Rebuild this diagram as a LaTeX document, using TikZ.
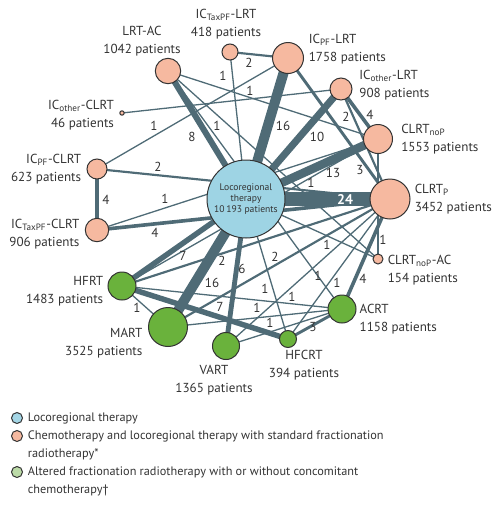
\documentclass[tikz,border=0pt]{standalone}
\usepackage{fontspec}
\setmainfont{PT Sans}
\usetikzlibrary{positioning, backgrounds}
\definecolor{lrtblue}{HTML}{9ED4E4}
\definecolor{chpeach}{HTML}{F6B9A0}
\definecolor{afgreen}{HTML}{6AB23C}
\definecolor{lnkgrey}{HTML}{4F6B76}
\definecolor{legblue}{HTML}{A4D6E6}
\definecolor{leggreen}{HTML}{BCDBA8}
\definecolor{inkgrey}{HTML}{333333}

\begin{document}
\begin{tikzpicture}[x=0.75pt, y=-0.75pt]
 \tikzset{arm/.style={circle, draw=inkgrey, line width=0.75pt, inner sep=0pt, minimum size={#1*1.5pt}}}
 \tikzset{tr/.style={draw=lnkgrey, line width={0.975pt*pow(#1,0.737)}}}
 \tikzset{lbl/.style={font=\fontsize{9.8}{13.5}\selectfont, text=inkgrey, inner sep=0pt}}
 \tikzset{lgd/.style={font=\fontsize{9.2}{13.5}\selectfont, text=inkgrey, inner sep=0pt}}
 \tikzset{num/.style={font=\fontsize{9.8}{12}\selectfont, text=inkgrey, inner sep=0pt}}
 \useasboundingbox (0,0) rectangle (494,508);

 % treatments
 \node[arm=39, fill=lrtblue, text=inkgrey, align=center,
    font=\fontsize{7.2}{8.3}\selectfont] (lrt) at (246,199) {Locoregional\\therapy\\10\,193 patients};
 \node[arm=12.7, fill=chpeach] (lrtac) at (168,71) {};
 \node[arm=8, fill=chpeach] (ictlrt) at (230,52) {};
 \node[arm=15.5, fill=chpeach] (icplrt) at (288,58) {};
 \node[arm=11, fill=chpeach] (icolrt) at (341,89) {};
 \node[arm=14.5, fill=chpeach] (clrtn) at (378,139) {};
 \node[arm=20, fill=chpeach] (clrtp) at (390,199) {};
 \node[arm=5, fill=chpeach] (clrtnac) at (378,259) {};
 \node[arm=14, fill=afgreen] (acrt) at (342,309) {};
 \node[arm=8.5, fill=afgreen] (hfcrt) at (288,339) {};
 \node[arm=13.5, fill=afgreen] (vart) at (226,346) {};
 \node[arm=19.5, fill=afgreen] (mart) at (168,327) {};
 \node[arm=14, fill=afgreen] (hfrt) at (122,286) {};
 \node[arm=11.7, fill=chpeach] (ictclrt) at (97,230) {};
 \node[arm=10, fill=chpeach] (icpclrt) at (97,169) {};
 \node[arm=2.2, fill=chpeach] (icoclrt) at (122,113) {};

 \node[lbl, align=center, above=1pt of lrtac, xshift=-19.5pt] (lrtac-t) {LRT-AC\\1042 patients};
 \node[lbl, align=center, above=3pt of ictlrt, xshift=-3pt] (ictlrt-t) {IC\textsubscript{TaxPF}-LRT\\418 patients};
 \node[lbl, align=left, right=3.4pt of icplrt, yshift=6.4pt] (icplrt-t) {IC\textsubscript{PF}-LRT\\1758 patients};
 \node[lbl, align=left, right=5pt of icolrt, yshift=2.6pt] (icolrt-t) {IC\textsubscript{other}-LRT\\908 patients};
 \node[lbl, align=left, right=6pt of clrtn] (clrtn-t) {CLRT\textsubscript{noP}\\1553 patients};
 \node[lbl, align=left, right=3pt of clrtp] (clrtp-t) {CLRT\textsubscript{P}\\3452 patients};
 \node[lbl, align=left, right=3pt of clrtnac, yshift=-8.2pt] (clrtnac-t) {CLRT\textsubscript{noP}-AC\\154 patients};
 \node[lbl, align=left, right=2.2pt of acrt, yshift=-7.9pt] (acrt-t) {ACRT\\1158 patients};
 \node[lbl, align=center, below=1.5pt of hfcrt, xshift=12pt] (hfcrt-t) {HFCRT\\394 patients};
 \node[lbl, align=center, below=3.6pt of vart, xshift=-9pt] (vart-t) {VART\\1365 patients};
 \node[lbl, align=right, left=4pt of mart, yshift=-12.4pt] (mart-t) {MART\\3525 patients};
 \node[lbl, align=right, left=3pt of hfrt, yshift=-4pt] (hfrt-t) {HFRT\\1483 patients};
 \node[lbl, align=right, left=3.8pt of ictclrt, yshift=-3pt] (ictclrt-t) {IC\textsubscript{TaxPF}-CLRT\\906 patients};
 \node[lbl, align=right, left=3.8pt of icpclrt] (icpclrt-t) {IC\textsubscript{PF}-CLRT\\623 patients};
 \node[lbl, align=right, left=3.8pt of icoclrt, yshift=-1.9pt] (icoclrt-t) {IC\textsubscript{other}-CLRT\\46 patients};

 % comparisons, width by number of trials
 \begin{scope}[on background layer]
 \draw[tr=1] (lrt.center) -- (ictlrt.center) node[num] (n1) at (223,76) {1};
 \draw[tr=1] (lrtac.center) -- (clrtn.center);
 \draw[tr=1] (icoclrt.center) -- (icolrt.center) node[num] (n3) at (250,91) {1};
 \draw[tr=1] (lrtac.center) -- (clrtnac.center) node[num] (n4) at (217,126) {1};
 \draw[tr=1] (lrtac.center) -- (acrt.center) node[num] (n5) at (318,276) {1};
 \draw[tr=1] (icpclrt.center) -- (icplrt.center) node[num] (n6) at (154,126) {1};
 \draw[tr=1] (ictclrt.center) -- (clrtn.center) node[num] (n7) at (165,199) {1};
 \draw[tr=1] (hfrt.center) -- (clrtn.center) node[num] (n8) at (311,183) {1};
 \draw[tr=1] (clrtn.center) -- (clrtnac.center) node[num] (n9) at (383,240) {1};
 \draw[tr=1] (lrt.center) -- (clrtnac.center) node[num] (n10) at (327,245) {1};
 \draw[tr=1] (lrt.center) -- (hfcrt.center) node[num] (n11) at (265,289) {1};
 \draw[tr=1] (hfrt.center) -- (mart.center) node[num] (n12) at (137,308) {1};
 \draw[tr=1] (hfrt.center) -- (acrt.center);
 \draw[tr=1] (mart.center) -- (acrt.center) node[num] (n14) at (257,308) {1};
 \draw[tr=1] (vart.center) -- (acrt.center) node[num] (n15) at (270,323) {1};
 \draw[tr=1] (vart.center) -- (clrtp.center) node[num] (n16) at (292,297) {1};
 \draw[tr=1] (hfcrt.center) -- (clrtp.center) node[num] (n17) at (337,283) {1};
 \draw[tr=2] (ictlrt.center) -- (icplrt.center) node[num] (n18) at (249,63) {2};
 \draw[tr=2] (icolrt.center) -- (clrtp.center) node[num] (n19) at (346,117) {2};
 \draw[tr=2] (icpclrt.center) -- (clrtp.center) node[num] (n20) at (158,167) {2};
 \draw[tr=2] (hfrt.center) -- (clrtp.center) node[num] (n21) at (222,261) {2};
 \draw[tr=2] (mart.center) -- (clrtp.center) node[num] (n22) at (275,257) {2};
 \draw[tr=3] (icplrt.center) -- (clrtp.center) node[num] (n23) at (360,170) {3};
 \draw[tr=3] (hfcrt.center) -- (acrt.center) node[num] (n24) at (313,327) {3};
 \draw[tr=4] (icolrt.center) -- (clrtn.center) node[num] (n25) at (370,115) {4};
 \draw[tr=4] (icpclrt.center) -- (ictclrt.center) node[num] (n26) at (106,200) {4};
 \draw[tr=4] (ictclrt.center) -- (clrtp.center) node[num] (n27) at (155,233) {4};
 \draw[tr=4] (acrt.center) -- (clrtp.center) node[num] (n28) at (363,279) {4};
 \draw[tr=6] (lrt.center) -- (vart.center) node[num] (n29) at (242,269) {6};
 \draw[tr=7] (lrt.center) -- (hfrt.center) node[num] (n30) at (183,256) {7};
 \draw[tr=7] (hfrt.center) -- (hfcrt.center) node[num] (n31) at (220,307) {7};
 \draw[tr=8] (lrt.center) -- (lrtac.center) node[num] (n32) at (192,137) {8};
 \draw[tr=10] (lrt.center) -- (icolrt.center) node[num] (n33) at (317,137) {10};
 \draw[tr=13] (lrt.center) -- (clrtn.center) node[num] (n34) at (333,173) {13};
 \draw[tr=16] (lrt.center) -- (icplrt.center) node[num] (n35) at (283,126) {16};
 \draw[tr=16] (lrt.center) -- (mart.center) node[num] (n36) at (212,283) {16};
 \draw[tr=24] (lrt.center) -- (clrtp.center) node[num, text=white, font=\fontsize{10.5}{12}\bfseries] (n37) at (345,199) {24};
 \end{scope}

 % legend
 \node[arm=5.5, fill=legblue] (leg1) at (17,418) {};
 \node[lgd, right=3.5pt of leg1] (leg1-t) {Locoregional therapy};
 \node[arm=5.5, fill=chpeach] (leg2) at (17,436) {};
 \node[lgd, align=left, right=3.5pt of leg2, anchor=north west, yshift=4pt] (leg2-t)
    {Chemotherapy and locoregional therapy with standard fractionation\\radiotherapy*};
 \node[arm=5.5, fill=leggreen] (leg3) at (17,472) {};
 \node[lgd, align=left, right=3.5pt of leg3, anchor=north west, yshift=4pt] (leg3-t)
    {Altered fractionation radiotherapy with or without concomitant\\chemotherapy\textdagger};
\end{tikzpicture}
\end{document}
